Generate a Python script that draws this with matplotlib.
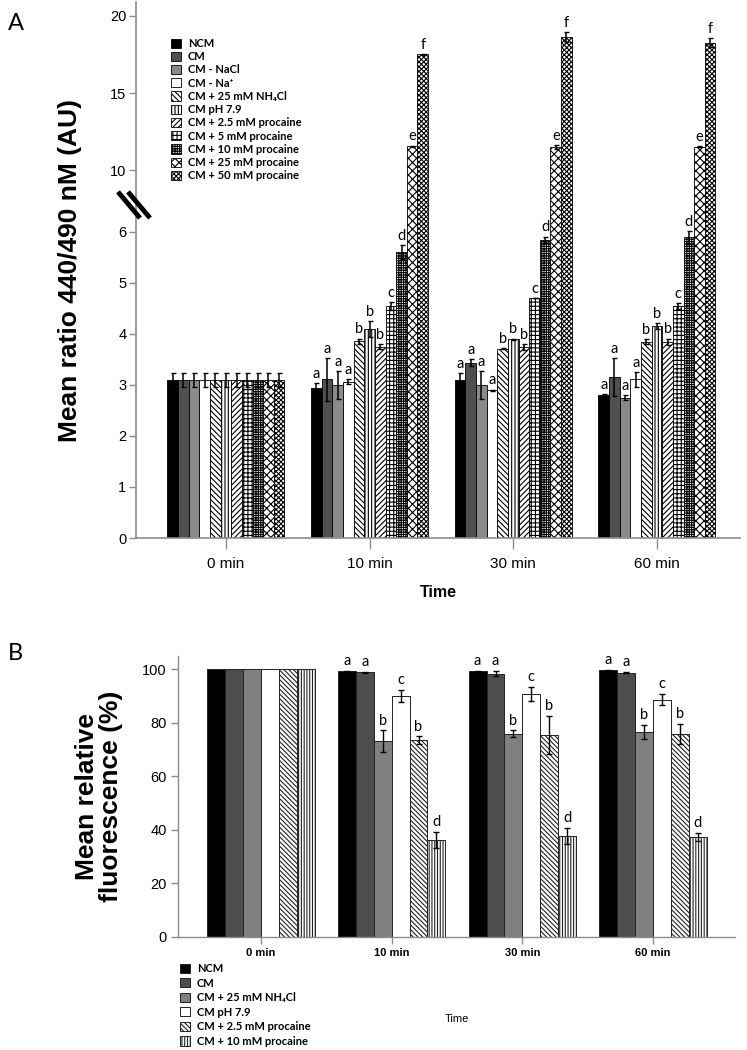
import numpy as np
import matplotlib
matplotlib.use("Agg")
import matplotlib.pyplot as plt
from matplotlib.lines import Line2D
import matplotlib.transforms as mtransforms

# ---------------- data: panel A ----------------
times = ["0 min", "10 min", "30 min", "60 min"]
labels_a = ["NCM", "CM", "CM - NaCl", "CM - Na⁺", "CM + 25 mM NH₄Cl", "CM pH 7.9",
            "CM + 2.5 mM procaine", "CM + 5 mM procaine", "CM + 10 mM procaine",
            "CM + 25 mM procaine", "CM + 50 mM procaine"]
ncm_a      = [3.10, 2.95, 3.10, 2.80]
cm_a       = [3.10, 3.11, 3.44, 3.15]
cm_nacl_a  = [3.10, 3.00, 3.00, 2.75]
cm_na_a    = [3.10, 3.06, 2.90, 3.11]
nh4cl_a    = [3.10, 3.86, 3.71, 3.85]
ph79_a     = [3.10, 4.10, 3.90, 4.16]
proc2_5_a  = [3.10, 3.75, 3.75, 3.85]
proc5_a    = [3.10, 4.55, 4.71, 4.55]
proc10_a   = [3.10, 5.60, 5.85, 5.90]
proc25_a   = [3.10, 11.55, 11.50, 11.53]
proc50_a   = [3.10, 17.50, 18.66, 18.27]
err_ncm_a     = [0.14, 0.08, 0.14, 0.02]
err_cm_a      = [0.14, 0.42, 0.06, 0.37]
err_cm_nacl_a = [0.14, 0.28, 0.28, 0.05]
err_cm_na_a   = [0.14, 0.05, 0.01, 0.14]
err_nh4cl_a   = [0.14, 0.05, 0.01, 0.05]
err_ph79_a    = [0.14, 0.15, 0.01, 0.06]
err_proc2_5_a = [0.14, 0.05, 0.06, 0.06]
err_proc5_a   = [0.14, 0.08, 0.00, 0.06]
err_proc10_a  = [0.14, 0.14, 0.06, 0.14]
err_proc25_a  = [0.14, 0.05, 0.12, 0.05]
err_proc50_a  = [0.14, 0.03, 0.32, 0.30]
letters_a = ["a", "a", "a", "a", "b", "b", "b", "c", "d", "e", "f"]
yticks_a = [0, 1, 2, 3, 4, 5, 6, 10, 15, 20]

# ---------------- data: panel B ----------------
labels_b = ["NCM", "CM", "CM + 25 mM NH₄Cl", "CM pH 7.9",
            "CM + 2.5 mM procaine", "CM + 10 mM procaine"]
ncm_b     = [100.0, 99.3, 99.3, 99.6]
cm_b      = [100.0, 98.9, 98.4, 98.8]
nh4cl_b   = [100.0, 73.2, 76.0, 76.5]
ph79_b    = [100.0, 90.0, 90.8, 88.7]
proc2_5_b = [100.0, 73.6, 75.5, 76.0]
proc10_b  = [100.0, 36.2, 37.8, 37.4]
err_ncm_b     = [0.1, 0.2, 0.2, 0.2]
err_cm_b      = [0.1, 0.3, 1.0, 0.2]
err_nh4cl_b   = [0.1, 4.0, 1.2, 2.7]
err_ph79_b    = [0.1, 2.3, 2.6, 2.0]
err_proc2_5_b = [0.1, 1.4, 7.1, 3.7]
err_proc10_b  = [0.1, 3.0, 3.0, 1.4]
letters_b = ["a", "a", "b", "c", "b", "d"]
yticks_b = [0, 20, 40, 60, 80, 100]

# ---------------- style ----------------
plt.rcParams["hatch.linewidth"] = 0.8
AX_GRAY = "#8c8c8c"
TICK_FONT = "Liberation Sans"
TXT_FONT = ["Lato", "DejaVu Sans"]

W, H = 747, 1050
fig = plt.figure(figsize=(W / 100, H / 100), dpi=100)

def frac(x0, y0, x1, y1):
    return [x0 / W, 1 - y1 / H, (x1 - x0) / W, (y1 - y0) / H]

# ---------------- panel A ----------------
axA = fig.add_axes(frac(136, 2, 740, 538))
r = 15.43 / 51.0

def fwd(y):
    y = np.asarray(y, dtype=float)
    return np.where(y <= 6, y, 6 + (y - 6) * r)

def inv(t):
    t = np.asarray(t, dtype=float)
    return np.where(t <= 6, t, 6 + (t - 6) / r)

axA.set_yscale("function", functions=(fwd, inv))

series_a = [ncm_a, cm_a, cm_nacl_a, cm_na_a, nh4cl_a, ph79_a, proc2_5_a,
            proc5_a, proc10_a, proc25_a, proc50_a]
errs_a = [err_ncm_a, err_cm_a, err_cm_nacl_a, err_cm_na_a, err_nh4cl_a, err_ph79_a,
          err_proc2_5_a, err_proc5_a, err_proc10_a, err_proc25_a, err_proc50_a]
fills_a = ["black", "#505050", "#8a8a8a", "white", "white", "white", "white",
           "white", "white", "white", "white"]
hatches_a = [None, None, None, None, "\\" * 6, "|" * 5, "/" * 6, "+" * 4, "+" * 7,
             "x" * 4, "x" * 7]
xA = np.arange(len(times))
bwA = 0.074
nA = len(series_a)
handles_a = []
for i, (vals, errs) in enumerate(zip(series_a, errs_a)):
    pos = xA + (i - (nA - 1) / 2) * bwA
    b = axA.bar(pos, vals, width=bwA, color=fills_a[i], edgecolor="black",
                linewidth=0.6, hatch=hatches_a[i], label=labels_a[i], zorder=2)
    handles_a.append(b)
    axA.errorbar(pos, vals, yerr=errs, fmt="none", ecolor="black",
                 elinewidth=1.1, capsize=1.8, capthick=1.0, zorder=3)
    for j in range(1, len(times)):
        axA.annotate(letters_a[i], xy=(pos[j], vals[j] + errs[j]), xytext=(0, 1.5),
                     textcoords="offset points", ha="center", va="bottom",
                     fontsize=10.5, family=TXT_FONT, zorder=4)

axA.set_xlim(-0.626, 3.578)
axA.set_ylim(0, 20.9)
axA.set_yticks(yticks_a)
axA.set_yticklabels([str(t) for t in yticks_a], family=TICK_FONT, fontsize=10.5)
axA.set_xticks(xA)
axA.set_xticklabels(times, family=TICK_FONT, fontsize=11)
for s in ["top", "right"]:
    axA.spines[s].set_visible(False)
for s in ["left", "bottom"]:
    axA.spines[s].set_color(AX_GRAY)
    axA.spines[s].set_linewidth(1.2)
axA.tick_params(axis="y", colors=AX_GRAY, length=5, width=1.0, pad=2, labelcolor="black")
axA.tick_params(axis="x", colors=AX_GRAY, length=8, width=1.0, pad=6, labelcolor="black")
axA.set_xlabel("Time", family=TICK_FONT, fontsize=11.5, fontweight="bold", labelpad=10)
axA.set_ylabel("Mean ratio 440/490 nM (AU)", family=TICK_FONT, fontsize=19,
               fontweight="bold", labelpad=20)

# axis-break marks
tr = mtransforms.blended_transform_factory(fig.transFigure, axA.transData)
for dx in (0.0, 10.0):
    axA.add_line(Line2D([(118 + dx) / W, (140 + dx) / W], [8.6, 6.9], transform=tr,
                        color="black", linewidth=3.5, clip_on=False, zorder=5,
                        solid_capstyle="butt"))

legA = axA.legend(handles=handles_a, loc="upper left", bbox_to_anchor=((171 - 136) / 604, 1 - 36 / 536),
                  frameon=False, prop={"family": TXT_FONT, "weight": "bold", "size": 8},
                  handlelength=0.9, handleheight=0.9, handletextpad=0.6,
                  labelspacing=0.2, borderpad=0, borderaxespad=0)

fig.text(8 / W, 1 - 30 / H, "A", family=TXT_FONT, fontsize=17)

# ---------------- panel B ----------------
axB = fig.add_axes(frac(178, 656, 735, 937))
series_b = [ncm_b, cm_b, nh4cl_b, ph79_b, proc2_5_b, proc10_b]
errs_b = [err_ncm_b, err_cm_b, err_nh4cl_b, err_ph79_b, err_proc2_5_b, err_proc10_b]
fills_b = ["black", "#4d4d4d", "#808080", "white", "white", "white"]
hatches_b = [None, None, None, None, "\\" * 7, "|" * 6]
xB = np.arange(len(times))
bwB = 0.137
nB = len(series_b)
handles_b = []
for i, (vals, errs) in enumerate(zip(series_b, errs_b)):
    pos = xB + (i - (nB - 1) / 2) * bwB
    b = axB.bar(pos, vals, width=bwB, color=fills_b[i], edgecolor="#222222",
                linewidth=0.7, hatch=hatches_b[i], label=labels_b[i], zorder=2)
    handles_b.append(b)
    axB.errorbar(pos[1:], vals[1:], yerr=errs[1:], fmt="none", ecolor="black",
                 elinewidth=1.0, capsize=2.5, capthick=1.0, zorder=3)
    for j in range(1, len(times)):
        axB.annotate(letters_b[i], xy=(pos[j], vals[j] + errs[j]), xytext=(0, 2),
                     textcoords="offset points", ha="center", va="bottom",
                     fontsize=10.5, family=TXT_FONT, zorder=4)

axB.set_xlim(-0.635, 3.627)
axB.set_ylim(0, 105)
axB.set_yticks(yticks_b)
axB.set_yticklabels([str(t) for t in yticks_b], family=TICK_FONT, fontsize=10.5)
axB.set_xticks(xB)
axB.set_xticklabels(times, family=TICK_FONT, fontsize=8, fontweight="bold")
for s in ["top", "right"]:
    axB.spines[s].set_visible(False)
for s in ["left", "bottom"]:
    axB.spines[s].set_color(AX_GRAY)
    axB.spines[s].set_linewidth(1.0)
axB.tick_params(axis="y", colors=AX_GRAY, length=5, width=1.0, pad=3, labelcolor="black")
axB.tick_params(axis="x", colors=AX_GRAY, length=5, width=1.0, pad=3, labelcolor="black")
axB.set_xlabel("Time", family=TICK_FONT, fontsize=8, labelpad=40)
axB.set_ylabel("Mean relative\nfluorescence (%)", family=TICK_FONT, fontsize=19,
               fontweight="bold", labelpad=14, linespacing=1.0)

fig.legend(handles=handles_b, loc="upper left", bbox_to_anchor=(180 / W, 1 - 963 / H),
           frameon=False, prop={"family": TXT_FONT, "weight": "bold", "size": 8},
           handlelength=0.9, handleheight=0.9, handletextpad=0.6,
           labelspacing=0.32, borderpad=0, borderaxespad=0)

fig.text(8 / W, 1 - 660 / H, "B", family=TXT_FONT, fontsize=17)

fig.savefig("out.png", dpi=100)
